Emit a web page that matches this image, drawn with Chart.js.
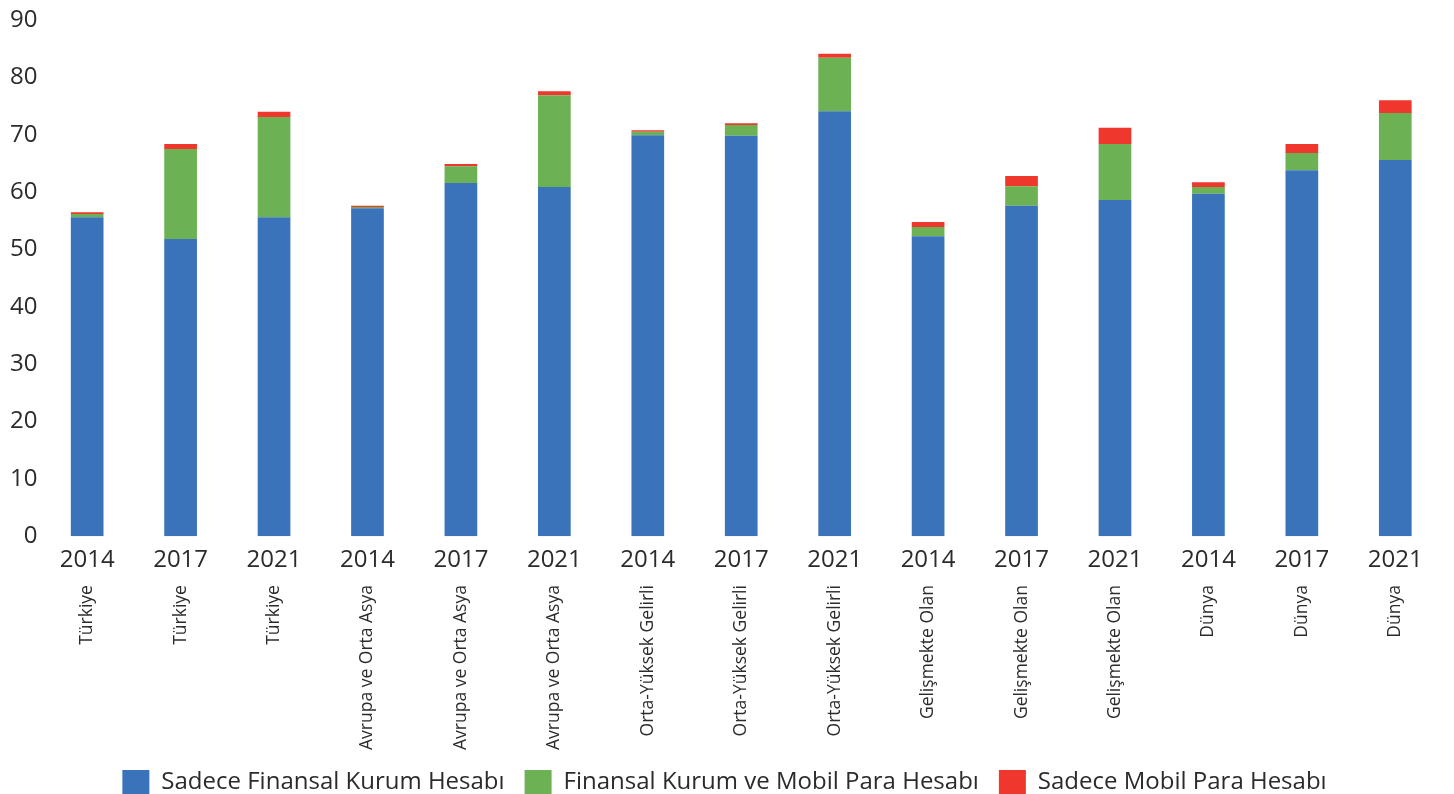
<!DOCTYPE html>
<html>
<head>
<meta charset="utf-8">
<script src="https://cdn.jsdelivr.net/npm/chart.js@4.4.1/dist/chart.umd.min.js"></script>
<style>
html,body{margin:0;padding:0;background:#fff;}
#wrap{width:1454px;height:794px;position:relative;}
</style>
</head>
<body>
<div id="wrap"><canvas id="c"></canvas></div>
<script>
const years = ['2014','2017','2021','2014','2017','2021','2014','2017','2021','2014','2017','2021','2014','2017','2021'];
const regions = ['Türkiye','Türkiye','Türkiye','Avrupa ve Orta Asya','Avrupa ve Orta Asya','Avrupa ve Orta Asya','Orta-Yüksek Gelirli','Orta-Yüksek Gelirli','Orta-Yüksek Gelirli','Gelişmekte Olan','Gelişmekte Olan','Gelişmekte Olan','Dünya','Dünya','Dünya'];
const onlyBank = [55.6, 51.8, 55.6, 57.2, 61.6, 60.9, 69.9, 69.8, 74.1, 52.3, 57.6, 58.6, 59.7, 63.8, 65.6];
const bankAndMobile = [0.6, 15.7, 17.5, 0.2, 2.9, 16.0, 0.6, 1.9, 9.3, 1.6, 3.4, 9.8, 1.2, 3.0, 8.2];
const onlyMobile = [0.3, 0.9, 0.9, 0.2, 0.4, 0.7, 0.3, 0.3, 0.7, 0.9, 1.8, 2.8, 0.8, 1.6, 2.2];
const seriesNames = ['Sadece Finansal Kurum Hesabı','Finansal Kurum ve Mobil Para Hesabı','Sadece Mobil Para Hesabı'];
const yTicks = [0,10,20,30,40,50,60,70,80,90];

const FONT = "'Open Sans', sans-serif";
const TXT = '#2b2b2b';

new Chart(document.getElementById('c'), {
  type: 'bar',
  data: {
    labels: years,
    datasets: [
      {label: seriesNames[0], data: onlyBank, backgroundColor: '#3A73B9', barPercentage: 0.35, categoryPercentage: 1},
      {label: seriesNames[1], data: bankAndMobile, backgroundColor: '#6DB155', barPercentage: 0.35, categoryPercentage: 1},
      {label: seriesNames[2], data: onlyMobile, backgroundColor: '#EF372E', barPercentage: 0.35, categoryPercentage: 1}
    ]
  },
  options: {
    responsive: true,
    maintainAspectRatio: false,
    animation: false,
    layout: {padding: {top: 20, right: 12, left: 7, bottom: -11}},
    plugins: {
      tooltip: {enabled: false},
      legend: {
        position: 'bottom',
        labels: {
          font: {family: FONT, size: 24},
          color: TXT,
          boxWidth: 27,
          boxHeight: 25,
          padding: 20
        }
      }
    },
    scales: {
      x: {
        stacked: true,
        weight: 0,
        grid: {display: false, drawTicks: false},
        border: {display: false},
        ticks: {font: {family: FONT, size: 24}, color: TXT, padding: 10, maxRotation: 0, autoSkip: false}
      },
      x2: {
        type: 'category',
        labels: regions,
        position: 'bottom',
        offset: true,
        weight: 1,
        grid: {display: false, drawTicks: false},
        border: {display: false},
        ticks: {font: {family: FONT, size: 17.5}, color: TXT, padding: 0, minRotation: 90, maxRotation: 90, autoSkip: false}
      },
      y: {
        stacked: true,
        min: 0,
        max: 90,
        afterBuildTicks: (axis) => { axis.ticks = yTicks.map(v => ({value: v})); },
        grid: {display: false, drawTicks: false},
        border: {display: false},
        ticks: {font: {family: FONT, size: 24}, color: TXT, padding: 3}
      }
    }
  }
});
</script>
</body>
</html>
